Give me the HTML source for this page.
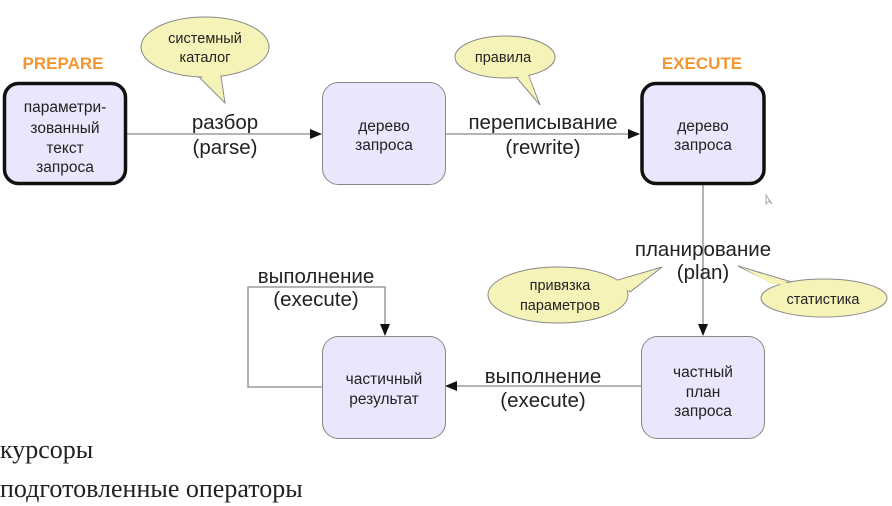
<!DOCTYPE html>
<html><head><meta charset="utf-8"><style>
html,body{margin:0;padding:0;background:#fff;width:892px;height:506px;overflow:hidden}
svg{display:block}
text{font-family:"Liberation Sans","DejaVu Sans",sans-serif;fill:#222}
.b{font-size:15.5px}
.l{font-size:20.5px}
.c{font-size:14.5px}
</style></head><body>
<svg width="892" height="506" viewBox="0 0 892 506" xmlns="http://www.w3.org/2000/svg">
<defs><marker id="a" markerWidth="12" markerHeight="10" refX="11" refY="5" orient="auto" markerUnits="userSpaceOnUse"><path d="M0,0 L12,5 L0,10 Z" fill="#111"/></marker></defs>
<g stroke="#888" stroke-width="1.3" fill="none">
<line x1="127" y1="134" x2="321" y2="134" marker-end="url(#a)"/>
<line x1="445" y1="134" x2="639" y2="134" marker-end="url(#a)"/>
<line x1="703" y1="185" x2="703" y2="335" marker-end="url(#a)"/>
<line x1="641" y1="386" x2="446" y2="386" marker-end="url(#a)"/>
<polyline points="322,387 248,387 248,287 385,287 385,335" marker-end="url(#a)"/>
</g>
<rect x="4.5" y="83.5" width="121" height="100" rx="14" fill="#ebe6fb" stroke="#111" stroke-width="3.5"/>
<rect x="322.5" y="82.5" width="123" height="102" rx="16" fill="#ebe6fb" stroke="#888" stroke-width="1"/>
<rect x="642" y="83.5" width="122" height="100" rx="14" fill="#ebe6fb" stroke="#111" stroke-width="3.5"/>
<rect x="641.5" y="336.5" width="123" height="102" rx="16" fill="#ebe6fb" stroke="#888" stroke-width="1"/>
<rect x="322.5" y="336.5" width="123" height="102" rx="16" fill="#ebe6fb" stroke="#888" stroke-width="1"/>
<g class="b" text-anchor="middle">
<text x="65" y="112">параметри-</text><text x="65" y="133">зованный</text><text x="65" y="153">текст</text><text x="65" y="172">запроса</text>
<text x="384" y="131">дерево</text><text x="384" y="150">запроса</text>
<text x="703" y="131">дерево</text><text x="703" y="150">запроса</text>
<text x="703" y="377">частный</text><text x="703" y="397">план</text><text x="703" y="416">запроса</text>
<text x="384" y="384">частичный</text><text x="384" y="404">результат</text>
</g>
<text x="63" y="69" text-anchor="middle" style="font-size:17px;font-weight:bold;fill:#f39530">PREPARE</text>
<text x="702" y="69" text-anchor="middle" style="font-size:17px;font-weight:bold;fill:#f39530">EXECUTE</text>
<g class="l" text-anchor="middle">
<text x="225" y="129">разбор</text><text x="225" y="154">(parse)</text>
<text x="543" y="129">переписывание</text><text x="543" y="154">(rewrite)</text>
<text x="703" y="256">планирование</text><text x="703" y="279">(plan)</text>
<text x="543" y="383">выполнение</text><text x="543" y="407">(execute)</text>
<text x="316" y="283">выполнение</text><text x="316" y="306">(execute)</text>
</g>
<!-- callouts: tail stroke, ellipse, tail fill overlay -->
<g stroke="#888" stroke-width="1" fill="#f6f3b8">
<polygon points="190,68 220,70 225,103"/>
<ellipse cx="205" cy="47" rx="64" ry="30"/>
<polygon points="510,70 528,74 540,105"/>
<ellipse cx="505" cy="57" rx="50" ry="21"/>
<polygon points="618,280 630,292 662,267"/>
<ellipse cx="558" cy="295" rx="70" ry="28"/>
<polygon points="770,282 795,283 738,266"/>
<ellipse cx="824" cy="298" rx="63" ry="19"/>
</g>
<g fill="#f6f3b8">
<polygon points="192,66 219,68 224,100"/>
<polygon points="511,68 527,72 538,102"/>
<polygon points="616,281 628,291 658,269"/>
<polygon points="772,284 793,285 741,267"/>
</g>
<g class="c" text-anchor="middle">
<text x="205" y="43">системный</text><text x="205" y="62">каталог</text>
<text x="503" y="62">правила</text>
<text x="560" y="290">привязка</text><text x="560" y="310">параметров</text>
<text x="823" y="304">статистика</text>
</g>
<path d="M766,195 L766,204 L769,201 L772,204 Z" fill="#fff" stroke="#999" stroke-width="0.8"/>
<text x="0" y="458" style="font-family:'Liberation Serif',serif;font-size:26px;fill:#222">курсоры</text>
<text x="0" y="497" style="font-family:'Liberation Serif',serif;font-size:26px;fill:#222">подготовленные операторы</text>
</svg>
</body></html>
